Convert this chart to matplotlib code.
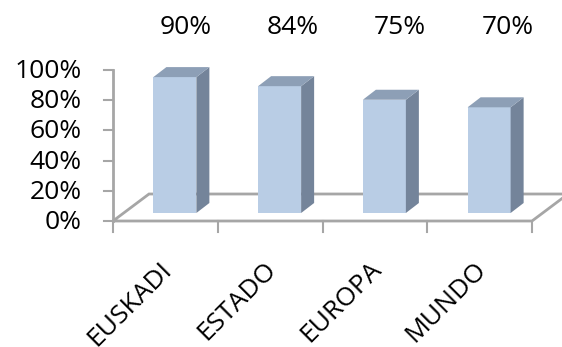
import numpy as np
import matplotlib
matplotlib.use('Agg')
import matplotlib.pyplot as plt
from matplotlib.patches import Polygon

plt.rcParams['font.family'] = ['Open Sans', 'DejaVu Sans']

categories = ['EUSKADI', 'ESTADO', 'EUROPA', 'MUNDO']
values = [90, 84, 75, 70]
value_labels = ['90%', '84%', '75%', '70%']
yticks = [0, 20, 40, 60, 80, 100]

W, H = 562, 347
fig = plt.figure(figsize=(W / 100, H / 100), dpi=100)
# axes box: front-left of floor at (113,221), top of value axis at y=70, front-right at x=532
ax = fig.add_axes([113 / W, (H - 221) / H, (532 - 113) / W, (221 - 70) / H])
ax.set_xlim(-0.5, 3.5)
ax.set_ylim(0, 100)
ax.axis('off')

px_x = 4.0 / (532 - 113)   # data units per pixel in x
px_y = 100.0 / (221 - 70)  # data units per pixel in y

grey = '#a6a6a6'
# floor depth
fdx, fdy = 36 * px_x, 27 * px_y
x0, x1 = -0.5, 3.5
floor = Polygon([[x0, 0], [x1, 0], [x1 + fdx, fdy], [x0 + fdx, fdy]], closed=True,
                facecolor='white', edgecolor=grey, lw=2, clip_on=False, zorder=1)
ax.add_patch(floor)

# value axis
ax.plot([x0, x0], [0, 100], color=grey, lw=2, clip_on=False, zorder=2)
for t in yticks:
    ax.plot([x0 - 9 * px_x, x0], [t, t], color=grey, lw=1.5, clip_on=False, zorder=2)
    ax.text(x0 - 31 * px_x, t - 1.5 * px_y, '%d%%' % t, ha='right', va='center',
            fontsize=19, color='black')

# category ticks
for i in range(len(categories) + 1):
    xt = x0 + i
    ax.plot([xt, xt], [0, -11 * px_y], color=grey, lw=1.5, clip_on=False, zorder=2)

# bars
bw = 43 * px_x
shift = 9.5 * px_x
base = 8 * px_y
ddx, ddy = 13 * px_x, 10 * px_y
front_c, side_c, top_c = '#b9cde5', '#74849a', '#8d9fb6'
xs = np.arange(len(categories))
ax.bar(xs + shift, values, width=bw, bottom=base, color=front_c, zorder=4, clip_on=False)
for x, v in zip(xs, values):
    l = x + shift - bw / 2
    r = x + shift + bw / 2
    t = base + v
    ax.add_patch(Polygon([[r, base], [r + ddx, base + ddy], [r + ddx, t + ddy], [r, t]],
                         closed=True, facecolor=side_c, edgecolor='none', zorder=4, clip_on=False))
    ax.add_patch(Polygon([[l, t], [r, t], [r + ddx, t + ddy], [l + ddx, t + ddy]],
                         closed=True, facecolor=top_c, edgecolor='none', zorder=4, clip_on=False))

# value labels above chart
for x, lab in zip(xs, value_labels):
    ax.text(x * 1.025 + 20 * px_x, 100 + 42 * px_y, lab, ha='center', va='center', fontsize=19)

# rotated category labels
for x, c in zip(xs, categories):
    ax.text(x - 6 * px_x, -36 * px_y, c, rotation=45, ha='right', va='top',
            rotation_mode='anchor', fontsize=19)

fig.savefig('out.png', dpi=100)
